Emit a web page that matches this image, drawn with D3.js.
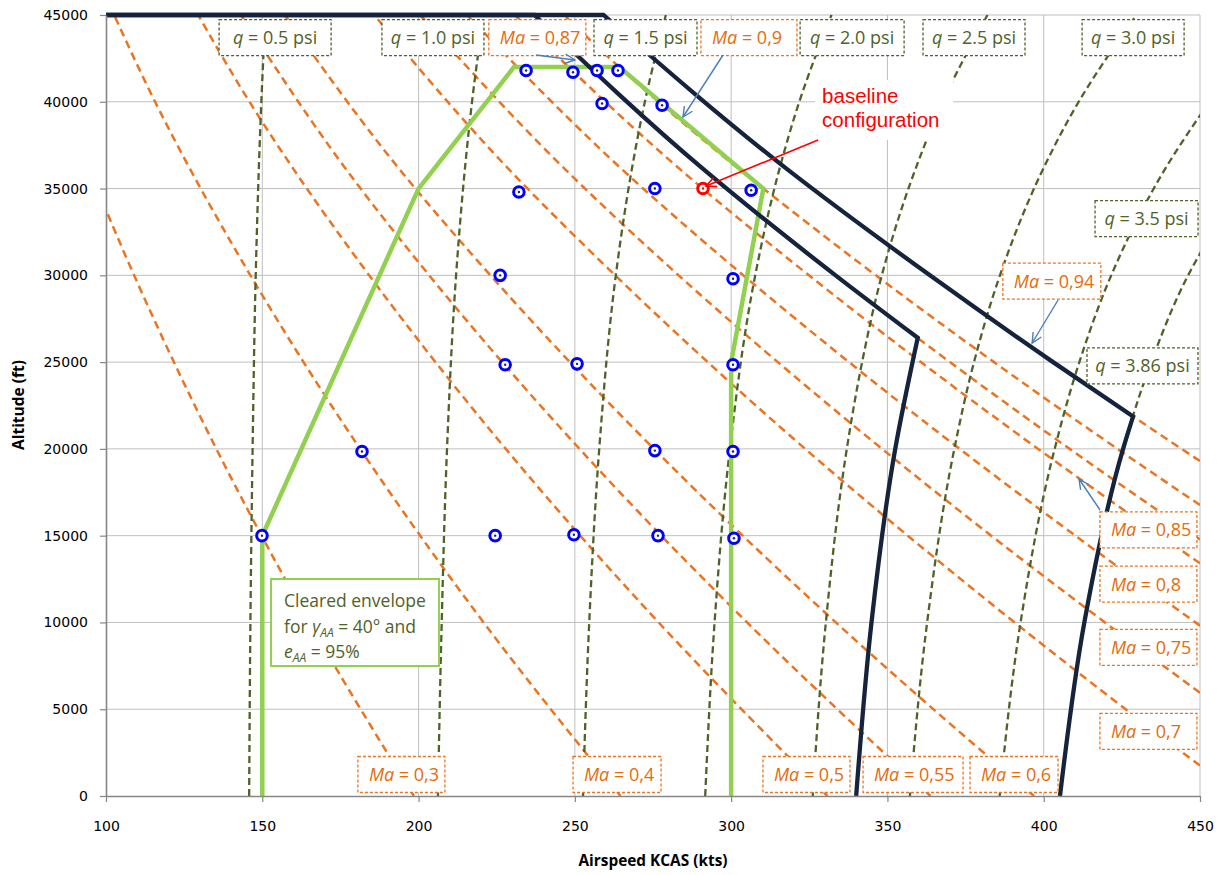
<!DOCTYPE html>
<html>
<head>
<meta charset="utf-8">
<script src="https://cdn.jsdelivr.net/npm/d3@7"></script>
<style>
  body { margin: 0; background: #ffffff; }
  svg { display: block; }
</style>
</head>
<body>
<svg id="chart" width="1229" height="875"></svg>
<script>
// ---- axis ticks ----
const xTickValues = [100, 150, 200, 250, 300, 350, 400, 450];
const yTickValues = [0, 5000, 10000, 15000, 20000, 25000, 30000, 35000, 40000, 45000];

// ---- constant Mach lines: [KCAS (kts), altitude (ft)] ----
const mach030 = [[198.5, 0], [165.1, 10000], [135.3, 20000], [109.0, 30000], [94.6, 36089]];
const mach040 = [[264.6, 0], [220.8, 10000], [181.3, 20000], [146.2, 30000], [127.0, 36089], [115.7, 40000], [102.6, 45000]];
const mach050 = [[330.8, 0], [276.8, 10000], [227.9, 20000], [184.2, 30000], [160.1, 36089], [145.9, 40000], [129.5, 45000]];
const mach055 = [[363.8, 0], [305.1, 10000], [251.5, 20000], [203.4, 30000], [176.9, 36089], [143.2, 45000]];
const mach060 = [[396.9, 0], [333.5, 10000], [275.3, 20000], [223.0, 30000], [194.0, 36089], [157.2, 45000]];
const mach070 = [[450, 1752], [426.2, 5000], [390.7, 10000], [356.5, 15000], [323.7, 20000], [262.9, 30000], [229.0, 36089], [185.8, 45000]];
const mach075 = [[450, 5946], [419.6, 10000], [383.2, 15000], [348.3, 20000], [283.2, 30000], [247.0, 36089], [200.5, 45000]];
const mach080 = [[450, 9816], [410.1, 15000], [373.1, 20000], [337.7, 25000], [303.9, 30000], [265.2, 36089], [215.5, 45000]];
const mach085 = [[450, 13408], [437.3, 15000], [398.2, 20000], [360.7, 25000], [324.9, 30000], [283.8, 36089], [230.8, 45000]];
const mach087 = [[450, 14776], [448.2, 15000], [408.3, 20000], [370.0, 25000], [333.4, 30000], [291.3, 36089], [237.1, 45000]];
const mach090 = [[450, 16764], [423.6, 20000], [384.1, 25000], [346.3, 30000], [310.3, 35000], [302.7, 36089], [264.2, 42000], [246.5, 45000]];
const mach094 = [[450, 19299], [444.1, 20000], [428.6, 21869], [403.0, 25000], [363.6, 30000], [318.1, 36089], [259.2, 45000]];
const machLines = [mach030, mach040, mach050, mach055, mach060, mach070, mach075, mach080, mach085, mach087, mach090, mach094];

// ---- constant dynamic pressure lines: [KCAS (kts), altitude (ft)] ----
const q050 = [[145.8, 0], [146.2, 10000], [146.9, 20000], [147.9, 30000], [149.7, 40000], [151.0, 45000]];
const q100 = [[206.2, 0], [207.4, 10000], [209.1, 20000], [212.0, 30000], [214.8, 36089], [217.1, 40000], [220.8, 45000]];
const q150 = [[252.6, 0], [254.6, 10000], [257.8, 20000], [263.1, 30000], [268.2, 36089], [272.4, 40000], [279.1, 45000]];
const q200 = [[291.7, 0], [294.7, 10000], [299.6, 20000], [307.7, 30000], [315.4, 36089], [321.8, 40000], [332.1, 45000]];
const q250 = [[326.1, 0], [330.3, 10000], [337.0, 20000], [341.9, 25000], [348.2, 30000], [358.9, 36089], [367.7, 40000], [382.0, 45000]];
const q300 = [[357.2, 0], [362.7, 10000], [371.4, 20000], [377.7, 25000], [386.0, 30000], [399.7, 36089], [411.2, 40000], [429.7, 45000]];
const q350 = [[385.9, 0], [392.6, 10000], [403.5, 20000], [411.4, 25000], [421.6, 30000], [438.7, 36089], [453.0, 40000]];
const q386 = [[405.2, 0], [413.0, 10000], [425.4, 20000], [434.4, 25000], [446.2, 30000], [452.4, 32000]];
const qLines = [q050, q100, q150, q200, q250, q300, q350, q386];

// ---- envelopes ----
const clearedEnvelope = [[150, 0], [150, 15000], [200, 35000], [230.5, 42000], [264.2, 42000], [310.3, 35000], [300, 25000], [300, 0]];
// limit boundaries, each as ceiling / Mach-limit / q-limit pieces
const limitInnerCeiling = [[100, 45000], [237.1, 45000]];
const limitInnerMach = [[237.1, 45000], [291.3, 36089], [333.4, 30000], [359.7, 26400]];
const limitInnerQ = [[359.7, 26400], [352.5, 20000], [344.9, 10000], [340.0, 0]];
const limitOuterCeiling = [[100, 45000], [259.2, 45000]];
const limitOuterMach = [[259.2, 45000], [318.1, 36089], [363.6, 30000], [403.0, 25000], [428.6, 21869]];
const limitOuterQ = [[428.6, 21869], [425.4, 20000], [413.0, 10000], [405.2, 0]];

// ---- test points ----
const testKcas = [234.4, 249.4, 257.1, 263.8, 258.7, 277.9, 232.1, 275.6, 306.4, 226.1, 300.6, 227.7, 250.7, 300.6, 181.9, 275.6, 300.6, 149.9, 224.5, 249.7, 276.6, 300.9];
const testAlt  = [41800, 41700, 41800, 41800, 39900, 39800, 34800, 35000, 34900, 30000, 29800, 24850, 24900, 24850, 19850, 19900, 19850, 15000, 15000, 15050, 15000, 14850];
const baselineKcas = [291.0];
const baselineAlt = [35000];

// ---- label texts ----
const qLabelText = ["0.5", "1.0", "1.5", "2.0", "2.5", "3.0", "3.5", "3.86"];
const machLabelText = ["0,3", "0,4", "0,5", "0,55", "0,6", "0,7", "0,75", "0,8", "0,85", "0,87", "0,9", "0,94"];

// ---- label placement (centre in data units, box width in px) ----
const qLabelPos = [
  { x: 154.1, y: 43700, w: 112 }, { x: 204.6, y: 43700, w: 102 }, { x: 272.6, y: 43700, w: 103 },
  { x: 338.7, y: 43700, w: 104 }, { x: 377.7, y: 43700, w: 102 }, { x: 428.6, y: 43700, w: 102 },
  { x: 432.9, y: 33270, w: 103 }, { x: 431.6, y: 24780, w: 111 }
];
const machLabelPos = [
  { x: 194.5, y: 1240, w: 87 }, { x: 263.5, y: 1240, w: 88 }, { x: 324.1, y: 1240, w: 87 },
  { x: 358.2, y: 1240, w: 100 }, { x: 390.5, y: 1240, w: 88 }, { x: 433.5, y: 3720, w: 97 },
  { x: 433.5, y: 8560, w: 97 }, { x: 433.5, y: 12210, w: 97 }, { x: 433.5, y: 15330, w: 97 },
  { x: 238.0, y: 43700, w: 97 }, { x: 305.7, y: 43700, w: 96 }, { x: 402.6, y: 29670, w: 98 }
];
const pointerArrows = [
  { from: [237.6, 42695], to: [250.0, 42407] },
  { from: [297.4, 42695], to: [284.6, 39123] },
  { from: [404.6, 28578], to: [396.3, 26101] },
  { from: [418.0, 16479], to: [411.3, 18265] }
];

// ---- colours ----
const C = {
  grid: "#BFBFBF", axis: "#868686", mach: "#EC7420", machText: "#E46C0A", q: "#4F6228",
  green: "#92D050", navy: "#15233D", blue: "#0000FF", red: "#FF0000", pointer: "#4A7EBB"
};

const svg = d3.select("#chart");
const x = d3.scaleLinear().domain([100, 450]).range([106, 1200]);
const y = d3.scaleLinear().domain([0, 45000]).range([796, 15]);
const line = d3.line().x(d => x(d[0])).y(d => y(d[1]));
const smooth = d3.line().x(d => x(d[0])).y(d => y(d[1])).curve(d3.curveMonotoneY);

// gridlines
const grid = svg.append("g");
grid.selectAll("line.v").data(xTickValues.slice(1)).join("line")
  .attr("x1", d => x(d)).attr("x2", d => x(d)).attr("y1", y(0)).attr("y2", y(45000))
  .attr("stroke", C.grid).attr("stroke-width", 1);
grid.selectAll("line.h").data(yTickValues.slice(1)).join("line")
  .attr("x1", x(100)).attr("x2", x(450)).attr("y1", d => y(d)).attr("y2", d => y(d))
  .attr("stroke", C.grid).attr("stroke-width", 1);

// clip region for the curves
svg.append("clipPath").attr("id", "plotClip").append("rect")
  .attr("x", x(100)).attr("y", y(45000) - 5).attr("width", x(450) - x(100)).attr("height", y(0) - y(45000) + 5);

const plot = svg.append("g").attr("clip-path", "url(#plotClip)");

plot.append("g").selectAll("path").data(machLines).join("path")
  .attr("d", smooth).attr("fill", "none").attr("stroke", C.mach)
  .attr("stroke-width", 2.5).attr("stroke-dasharray", "8,5");

plot.append("g").selectAll("path").data(qLines).join("path")
  .attr("d", smooth).attr("fill", "none").attr("stroke", C.q)
  .attr("stroke-width", 2.3).attr("stroke-dasharray", "7,4");

plot.append("path").datum(clearedEnvelope).attr("d", line)
  .attr("fill", "none").attr("stroke", C.green).attr("stroke-width", 4.5).attr("stroke-linejoin", "miter");

// join pieces into one continuous path so the corners stay mitred
function joinedPath(pieces) {
  return pieces.map((p, i) => {
    const d = p.length > 2 ? smooth(p) : line(p);
    return i === 0 ? d : "L" + d.slice(1);
  }).join("");
}
plot.append("g").selectAll("path")
  .data([[limitInnerCeiling, limitInnerMach, limitInnerQ], [limitOuterCeiling, limitOuterMach, limitOuterQ]])
  .join("path")
  .attr("d", joinedPath).attr("fill", "none").attr("stroke", C.navy)
  .attr("stroke-width", 4.3).attr("stroke-linejoin", "miter");

// axes
const xAxis = d3.axisBottom(x).tickValues(xTickValues).tickSize(6).tickSizeOuter(0).tickPadding(19).tickFormat(d3.format("d"));
const yAxis = d3.axisLeft(y).tickValues(yTickValues).tickSize(6).tickSizeOuter(0).tickPadding(12).tickFormat(d3.format("d"));
const gx = svg.append("g").attr("transform", `translate(0,${y(0)})`).call(xAxis);
const gy = svg.append("g").attr("transform", `translate(${x(100)},0)`).call(yAxis);
[gx, gy].forEach(g => {
  g.select(".domain").attr("stroke", C.axis).attr("stroke-width", 1.6);
  g.selectAll(".tick line").attr("stroke", C.axis).attr("stroke-width", 1.2);
  g.selectAll(".tick text").attr("fill", "#000").style("font-family", "'DejaVu Sans', sans-serif").style("font-size", "14px");
});

// axis titles
svg.append("text").attr("x", 653).attr("y", 866).attr("text-anchor", "middle")
  .attr("textLength", 149).attr("lengthAdjust", "spacingAndGlyphs")
  .style("font-family", "'Open Sans', sans-serif").style("font-weight", "bold").style("font-size", "15.5px")
  .text("Airspeed KCAS (kts)");
svg.append("text").attr("transform", "translate(24,405) rotate(-90)").attr("text-anchor", "middle")
  .attr("textLength", 90).attr("lengthAdjust", "spacingAndGlyphs")
  .style("font-family", "'Open Sans', sans-serif").style("font-weight", "bold").style("font-size", "15.5px")
  .text("Altitude (ft)");

// test points
function ringMarkers(xs, ys, color) {
  const g = svg.append("g");
  const pts = xs.map((v, i) => [v, ys[i]]);
  g.selectAll("circle.ring").data(pts).join("circle")
    .attr("cx", d => x(d[0])).attr("cy", d => y(d[1])).attr("r", 5.3)
    .attr("fill", "#fff").attr("stroke", color).attr("stroke-width", 3);
  g.selectAll("circle.dot").data(pts).join("circle")
    .attr("cx", d => x(d[0])).attr("cy", d => y(d[1])).attr("r", 1.2)
    .attr("fill", color === C.blue ? "#20206a" : color);
}
ringMarkers(testKcas, testAlt, C.blue);
ringMarkers(baselineKcas, baselineAlt, C.red);

// dashed label boxes
const labelFont = "'Open Sans', sans-serif";
function dashedLabel(pos, prefix, rest, color, border, align) {
  const h = 36;
  const cx = x(pos.x), cy = y(pos.y);
  const g = svg.append("g");
  g.append("rect").attr("x", cx - pos.w / 2).attr("y", cy - h / 2).attr("width", pos.w).attr("height", h)
    .attr("fill", "#fff").attr("stroke", border).attr("stroke-width", 1.3).attr("stroke-dasharray", "3,2");
  const t = g.append("text").attr("y", cy + 6.5).attr("fill", color)
    .style("font-family", labelFont).style("font-size", "18px");
  if (align === "left") t.attr("x", cx - pos.w / 2 + 11).attr("text-anchor", "start");
  else t.attr("x", cx).attr("text-anchor", "middle");
  t.append("tspan").style("font-style", "italic").text(prefix);
  t.append("tspan").text(rest);
}
qLabelText.forEach((s, i) => dashedLabel(qLabelPos[i], "q", " = " + s + " psi", C.q, C.q, "middle"));
machLabelText.forEach((s, i) => dashedLabel(machLabelPos[i], "Ma", " = " + s, C.machText, C.mach, "left"));

// cleared-envelope note
{
  const bx = x(152.8), by = y(12503);
  const g = svg.append("g");
  g.append("rect").attr("x", bx).attr("y", by).attr("width", 168).attr("height", 87)
    .attr("fill", "#fff").attr("stroke", C.green).attr("stroke-width", 2);
  const style = s => s.attr("fill", C.q).style("font-family", labelFont).style("font-size", "17.5px");
  style(g.append("text").attr("x", bx + 13).attr("y", by + 28)).text("Cleared envelope");
  const t2 = style(g.append("text").attr("x", bx + 13).attr("y", by + 54));
  t2.append("tspan").text("for ");
  t2.append("tspan").style("font-style", "italic").text("γ");
  t2.append("tspan").style("font-style", "italic").style("font-size", "12px").attr("dy", 4).text("AA");
  t2.append("tspan").attr("dy", -4).text(" = 40° and");
  const t3 = style(g.append("text").attr("x", bx + 13).attr("y", by + 79));
  t3.append("tspan").style("font-style", "italic").text("e");
  t3.append("tspan").style("font-style", "italic").style("font-size", "12px").attr("dy", 4).text("AA");
  t3.append("tspan").attr("dy", -4).text(" = 95%");
}

// baseline configuration annotation
{
  const tx = x(329.1), ty = y(39929);
  const g = svg.append("g");
  g.append("rect").attr("x", tx - 7).attr("y", ty - 23).attr("width", 138).attr("height", 60).attr("fill", "#fff");
  g.append("text").attr("x", tx).attr("y", ty).attr("fill", C.red)
    .style("font-family", "'Liberation Sans', Arial, sans-serif").style("font-size", "20.5px").text("baseline");
  g.append("text").attr("x", tx).attr("y", ty + 24).attr("fill", C.red)
    .style("font-family", "'Liberation Sans', Arial, sans-serif").style("font-size", "20.5px").text("configuration");
}

// arrows
function openArrow(from, to, color, width) {
  const x1 = x(from[0]), y1 = y(from[1]), x2 = x(to[0]), y2 = y(to[1]);
  const a = Math.atan2(y2 - y1, x2 - x1), L = 11, s = 0.45;
  const g = svg.append("g").attr("fill", "none").attr("stroke", color).attr("stroke-width", width);
  g.append("line").attr("x1", x1).attr("y1", y1).attr("x2", x2).attr("y2", y2);
  g.append("path").attr("d",
    `M${x2 - L * Math.cos(a - s)},${y2 - L * Math.sin(a - s)}L${x2},${y2}L${x2 - L * Math.cos(a + s)},${y2 - L * Math.sin(a + s)}`);
}
pointerArrows.forEach(a => openArrow(a.from, a.to, C.pointer, 1.4));
openArrow([327.8, 37797], [292.0, 35147], C.red, 1.6);
</script>
</body>
</html>
